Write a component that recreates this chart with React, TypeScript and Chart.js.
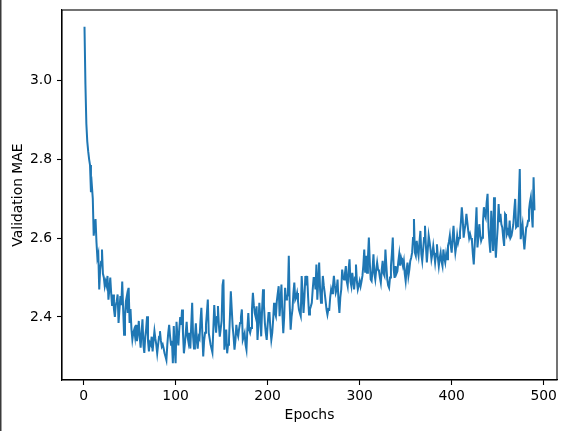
import React, { useEffect, useRef } from "react";
import { Chart, registerables } from "chart.js";

Chart.register(...registerables);

// Validation MAE per epoch (epochs 1..490)
const mae1: number[] = [
  3.135, 2.99, 2.89, 2.845, 2.82, 2.8, 2.785, 2.716, 2.733, 2.7,
  2.606, 2.63, 2.648, 2.59, 2.55, 2.56, 2.47, 2.52, 2.54, 2.571,
  2.51, 2.5, 2.478, 2.49, 2.48, 2.504, 2.444, 2.47, 2.5, 2.46,
  2.428, 2.457, 2.42, 2.4, 2.43, 2.44, 2.457, 2.385, 2.42, 2.453,
  2.43, 2.49, 2.42, 2.355, 2.4, 2.44, 2.453, 2.41, 2.474, 2.385,
  2.42, 2.37, 2.343, 2.36, 2.368, 2.35, 2.38, 2.339, 2.36, 2.39,
  2.35, 2.322, 2.36, 2.394, 2.33, 2.309, 2.35, 2.37, 2.402, 2.34,
  2.313, 2.335, 2.33, 2.35, 2.313, 2.34, 2.364, 2.345, 2.33, 2.308,
  2.33, 2.35, 2.364, 2.34, 2.325, 2.33, 2.32, 2.308, 2.3, 2.291,
  2.33, 2.36, 2.38, 2.35, 2.33, 2.34, 2.283, 2.377, 2.32, 2.283,
];
const mae2: number[] = [
  2.388, 2.35, 2.328, 2.37, 2.4, 2.38, 2.419, 2.36, 2.308, 2.33,
  2.36, 2.388, 2.35, 2.336, 2.36, 2.32, 2.38, 2.436, 2.35, 2.32,
  2.35, 2.384, 2.34, 2.32, 2.35, 2.345, 2.39, 2.423, 2.36, 2.3,
  2.34, 2.36, 2.38, 2.41, 2.444, 2.36, 2.345, 2.33, 2.32, 2.31,
  2.37, 2.43, 2.39, 2.36, 2.4, 2.428, 2.38, 2.35, 2.37, 2.39,
  2.48, 2.495, 2.317, 2.34, 2.368, 2.308, 2.33, 2.342, 2.4, 2.465,
  2.42, 2.376, 2.35, 2.317, 2.34, 2.38, 2.36, 2.351, 2.37, 2.385,
  2.4, 2.419, 2.342, 2.35, 2.359, 2.33, 2.317, 2.37, 2.41, 2.368,
  2.36, 2.372, 2.42, 2.461, 2.43, 2.41, 2.4, 2.427, 2.342, 2.38,
  2.436, 2.4, 2.351, 2.42, 2.47, 2.43, 2.385, 2.36, 2.342, 2.38,
];
const mae3: number[] = [
  2.41, 2.41, 2.37, 2.342, 2.36, 2.393, 2.436, 2.41, 2.402, 2.44,
  2.46, 2.478, 2.402, 2.44, 2.482, 2.41, 2.359, 2.4, 2.474, 2.444,
  2.45, 2.457, 2.555, 2.43, 2.368, 2.4, 2.419, 2.46, 2.487, 2.444,
  2.45, 2.461, 2.44, 2.419, 2.41, 2.402, 2.504, 2.46, 2.41, 2.45,
  2.504, 2.48, 2.504, 2.45, 2.406, 2.42, 2.427, 2.436, 2.47, 2.499,
  2.499, 2.47, 2.533, 2.444, 2.49, 2.538, 2.47, 2.436, 2.46, 2.504,
  2.48, 2.461, 2.44, 2.419, 2.406, 2.42, 2.419, 2.45, 2.47, 2.46,
  2.478, 2.504, 2.48, 2.461, 2.47, 2.495, 2.44, 2.41, 2.45, 2.47,
  2.52, 2.5, 2.495, 2.51, 2.529, 2.49, 2.478, 2.52, 2.546, 2.49,
  2.478, 2.512, 2.49, 2.47, 2.5, 2.533, 2.49, 2.47, 2.48, 2.491,
];
const mae4: number[] = [
  2.478, 2.49, 2.504, 2.53, 2.571, 2.512, 2.555, 2.512, 2.55, 2.601,
  2.54, 2.495, 2.491, 2.52, 2.559, 2.51, 2.495, 2.52, 2.538, 2.52,
  2.516, 2.5, 2.487, 2.52, 2.542, 2.51, 2.504, 2.571, 2.53, 2.495,
  2.48, 2.474, 2.5, 2.529, 2.56, 2.601, 2.52, 2.499, 2.529, 2.51,
  2.516, 2.54, 2.559, 2.53, 2.55, 2.54, 2.529, 2.542, 2.51, 2.491,
  2.52, 2.538, 2.504, 2.52, 2.542, 2.55, 2.563, 2.6, 2.648, 2.563,
  2.555, 2.593, 2.57, 2.555, 2.59, 2.618, 2.56, 2.542, 2.571, 2.6,
  2.631, 2.58, 2.538, 2.57, 2.606, 2.59, 2.571, 2.546, 2.56, 2.58,
  2.56, 2.538, 2.56, 2.584, 2.55, 2.529, 2.55, 2.563, 2.54, 2.529,
  2.571, 2.55, 2.538, 2.56, 2.546, 2.58, 2.59, 2.606, 2.58, 2.563,
];
const mae5: number[] = [
  2.6, 2.631, 2.59, 2.563, 2.58, 2.606, 2.589, 2.6, 2.614, 2.64,
  2.678, 2.648, 2.601, 2.62, 2.635, 2.661, 2.64, 2.618, 2.6, 2.61,
  2.6, 2.593, 2.56, 2.533, 2.58, 2.627, 2.678, 2.576, 2.6, 2.635,
  2.61, 2.593, 2.601, 2.64, 2.678, 2.66, 2.652, 2.69, 2.712, 2.627,
  2.59, 2.563, 2.669, 2.62, 2.567, 2.703, 2.6, 2.55, 2.59, 2.627,
  2.686, 2.64, 2.661, 2.635, 2.627, 2.601, 2.58, 2.661, 2.657, 2.61,
  2.618, 2.61, 2.644, 2.601, 2.606, 2.62, 2.635, 2.67, 2.699, 2.627,
  2.63, 2.64, 2.7, 2.775, 2.597, 2.62, 2.635, 2.6, 2.571, 2.6,
  2.627, 2.63, 2.644, 2.67, 2.69, 2.703, 2.66, 2.627, 2.754, 2.67,
];

const maeValues: number[] = [...mae1, ...mae2, ...mae3, ...mae4, ...mae5];
const epochs: number[] = maeValues.map((_, i) => i + 1);

const xTicks: number[] = [0, 100, 200, 300, 400, 500];
const yTicks: number[] = [2.4, 2.6, 2.8, 3.0];
const xTitle = "Epochs";
const yTitle = "Validation MAE";

const FONT = "'DejaVu Sans', sans-serif";

export default function App() {
  const ref = useRef<HTMLCanvasElement | null>(null);

  useEffect(() => {
    document.body.style.margin = "0";
    const canvas = ref.current!;
    const xMin = 1, xMax = epochs[epochs.length - 1];
    const xPad = (xMax - xMin) * 0.05;
    const yMinD = Math.min(...maeValues), yMaxD = Math.max(...maeValues);
    const yPad = (yMaxD - yMinD) * 0.05;

    const framePlugin = {
      id: "frame",
      afterDraw(chart: any) {
        const { ctx, chartArea } = chart;
        ctx.save();
        ctx.strokeStyle = "#000";
        ctx.lineWidth = 1.1;
        ctx.strokeRect(chartArea.left, chartArea.top, chartArea.right - chartArea.left, chartArea.bottom - chartArea.top);
        ctx.fillStyle = "#3a3a3a";
        ctx.fillRect(0, 0, 1.5, chart.height);
        ctx.restore();
      },
    };

    const chart = new Chart(canvas, {
      type: "line",
      data: {
        datasets: [
          {
            data: epochs.map((e, i) => ({ x: e, y: maeValues[i] })),
            borderColor: "#1f77b4",
            borderWidth: 2,
            pointRadius: 0,
            tension: 0,
            fill: false,
          },
        ],
      },
      options: {
        animation: false,
        responsive: false,
        maintainAspectRatio: false,
        layout: { padding: { left: 0, right: 12, top: 10, bottom: 0 } },
        plugins: { legend: { display: false }, tooltip: { enabled: false } },
        scales: {
          x: {
            type: "linear",
            min: xMin - xPad,
            max: xMax + xPad,
            afterBuildTicks: (s: any) => {
              s.ticks = xTicks.map((v) => ({ value: v }));
            },
            afterFit: (s: any) => {
              s.height = 51;
              s.paddingLeft = 0;
              s.paddingRight = 0;
            },
            grid: { display: true, drawOnChartArea: false, tickLength: 5, color: "#000", tickWidth: 1.1 },
            border: { display: true, color: "#000", width: 1.1 },
            ticks: {
              color: "#000",
              padding: 3,
              maxRotation: 0,
              font: { family: FONT, size: 13.9 },
              callback: (v: any) => String(v),
            },
            title: {
              display: true,
              text: xTitle,
              color: "#000",
              font: { family: FONT, size: 13.9 },
              padding: { top: 10, bottom: 7 },
            },
          },
          y: {
            type: "linear",
            min: yMinD - yPad,
            max: yMaxD + yPad,
            afterBuildTicks: (s: any) => {
              s.ticks = yTicks.map((v) => ({ value: v }));
            },
            afterFit: (s: any) => {
              s.width = 62;
              s.paddingTop = 0;
              s.paddingBottom = 0;
            },
            grid: { display: true, drawOnChartArea: false, tickLength: 5, color: "#000", tickWidth: 1.1 },
            border: { display: true, color: "#000", width: 1.1 },
            ticks: {
              color: "#000",
              padding: 5,
              font: { family: FONT, size: 13.9 },
              callback: (v: any) => Number(v).toFixed(1),
            },
            title: {
              display: true,
              text: yTitle,
              color: "#000",
              font: { family: FONT, size: 13.9 },
              padding: { top: 10, bottom: 10 },
            },
          },
        },
      },
      plugins: [framePlugin],
    });
    return () => chart.destroy();
  }, []);

  return (
    <div style={{ width: 569, height: 431, background: "#fff" }}>
      <canvas ref={ref} width={569} height={431} style={{ display: "block" }} />
    </div>
  );
}
